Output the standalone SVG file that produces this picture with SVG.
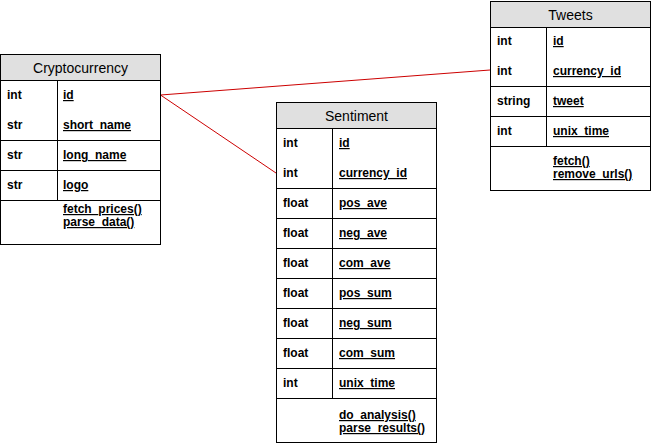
<svg xmlns="http://www.w3.org/2000/svg" width="651" height="443" viewBox="0 0 651 443">
<style>
.box{fill:#ffffff;stroke:#000000;stroke-width:1}
.hdr{fill:#e0e0e0;stroke:#000000;stroke-width:1}
.ln{stroke:#000000;stroke-width:1;fill:none}
.title{font-family:"Liberation Sans",Arial,sans-serif;font-size:14px;fill:#000000;text-anchor:middle}
.t{font-family:"Liberation Sans",Arial,sans-serif;font-size:12px;font-weight:bold;fill:#000000}
.f{font-family:"Liberation Sans",Arial,sans-serif;font-size:12px;font-weight:bold;fill:#000000;text-decoration:underline}
.edge{stroke:#cc0000;stroke-width:1;fill:none}
</style>
<g id="connectors">
<line class="edge" x1="160.5" y1="95" x2="490" y2="70"/>
<line class="edge" x1="160.5" y1="95" x2="276" y2="173"/>
</g>
<g id="cryptocurrency">
<rect class="box" x="0.5" y="54.5" width="160" height="190"/>
<rect class="hdr" x="0.5" y="54.5" width="160" height="26"/>
<text class="title" x="80.5" y="73">Cryptocurrency</text>
<line class="ln" x1="57.5" y1="80.5" x2="57.5" y2="200.5"/>
<line class="ln" x1="0.5" y1="140.5" x2="160.5" y2="140.5"/>
<line class="ln" x1="0.5" y1="170.5" x2="160.5" y2="170.5"/>
<line class="ln" x1="0.5" y1="200.5" x2="160.5" y2="200.5"/>
<text class="t" x="7" y="99">int</text><text class="f" x="63" y="99">id</text>
<text class="t" x="7" y="129">str</text><text class="f" x="63" y="129">short_name</text>
<text class="t" x="7" y="159">str</text><text class="f" x="63" y="159">long_name</text>
<text class="t" x="7" y="189">str</text><text class="f" x="63" y="189">logo</text>
<text class="f" x="63" y="213">fetch_prices()</text>
<text class="f" x="63" y="226">parse_data()</text>
</g>
<g id="sentiment">
<rect class="box" x="276.5" y="102.5" width="160" height="340"/>
<rect class="hdr" x="276.5" y="102.5" width="160" height="26"/>
<text class="title" x="356.5" y="121">Sentiment</text>
<line class="ln" x1="332.5" y1="128.5" x2="332.5" y2="398.5"/>
<line class="ln" x1="276.5" y1="188.5" x2="436.5" y2="188.5"/>
<line class="ln" x1="276.5" y1="218.5" x2="436.5" y2="218.5"/>
<line class="ln" x1="276.5" y1="248.5" x2="436.5" y2="248.5"/>
<line class="ln" x1="276.5" y1="278.5" x2="436.5" y2="278.5"/>
<line class="ln" x1="276.5" y1="308.5" x2="436.5" y2="308.5"/>
<line class="ln" x1="276.5" y1="338.5" x2="436.5" y2="338.5"/>
<line class="ln" x1="276.5" y1="368.5" x2="436.5" y2="368.5"/>
<line class="ln" x1="276.5" y1="398.5" x2="436.5" y2="398.5"/>
<text class="t" x="283" y="147">int</text><text class="f" x="339" y="147">id</text>
<text class="t" x="283" y="177">int</text><text class="f" x="339" y="177">currency_id</text>
<text class="t" x="283" y="207">float</text><text class="f" x="339" y="207">pos_ave</text>
<text class="t" x="283" y="237">float</text><text class="f" x="339" y="237">neg_ave</text>
<text class="t" x="283" y="267">float</text><text class="f" x="339" y="267">com_ave</text>
<text class="t" x="283" y="297">float</text><text class="f" x="339" y="297">pos_sum</text>
<text class="t" x="283" y="327">float</text><text class="f" x="339" y="327">neg_sum</text>
<text class="t" x="283" y="357">float</text><text class="f" x="339" y="357">com_sum</text>
<text class="t" x="283" y="387">int</text><text class="f" x="339" y="387">unix_time</text>
<text class="f" x="339" y="419">do_analysis()</text>
<text class="f" x="339" y="432">parse_results()</text>
</g>
<g id="tweets">
<rect class="box" x="490.5" y="1.5" width="160" height="189"/>
<rect class="hdr" x="490.5" y="1.5" width="160" height="26"/>
<text class="title" x="570.5" y="20">Tweets</text>
<line class="ln" x1="546.5" y1="27.5" x2="546.5" y2="146.5"/>
<line class="ln" x1="490.5" y1="86.5" x2="650.5" y2="86.5"/>
<line class="ln" x1="490.5" y1="116.5" x2="650.5" y2="116.5"/>
<line class="ln" x1="490.5" y1="146.5" x2="650.5" y2="146.5"/>
<text class="t" x="497" y="45">int</text><text class="f" x="553" y="45">id</text>
<text class="t" x="497" y="75">int</text><text class="f" x="553" y="75">currency_id</text>
<text class="t" x="497" y="105">string</text><text class="f" x="553" y="105">tweet</text>
<text class="t" x="497" y="135">int</text><text class="f" x="553" y="135">unix_time</text>
<text class="f" x="553" y="165">fetch()</text>
<text class="f" x="553" y="178">remove_urls()</text>
</g>
</svg>
